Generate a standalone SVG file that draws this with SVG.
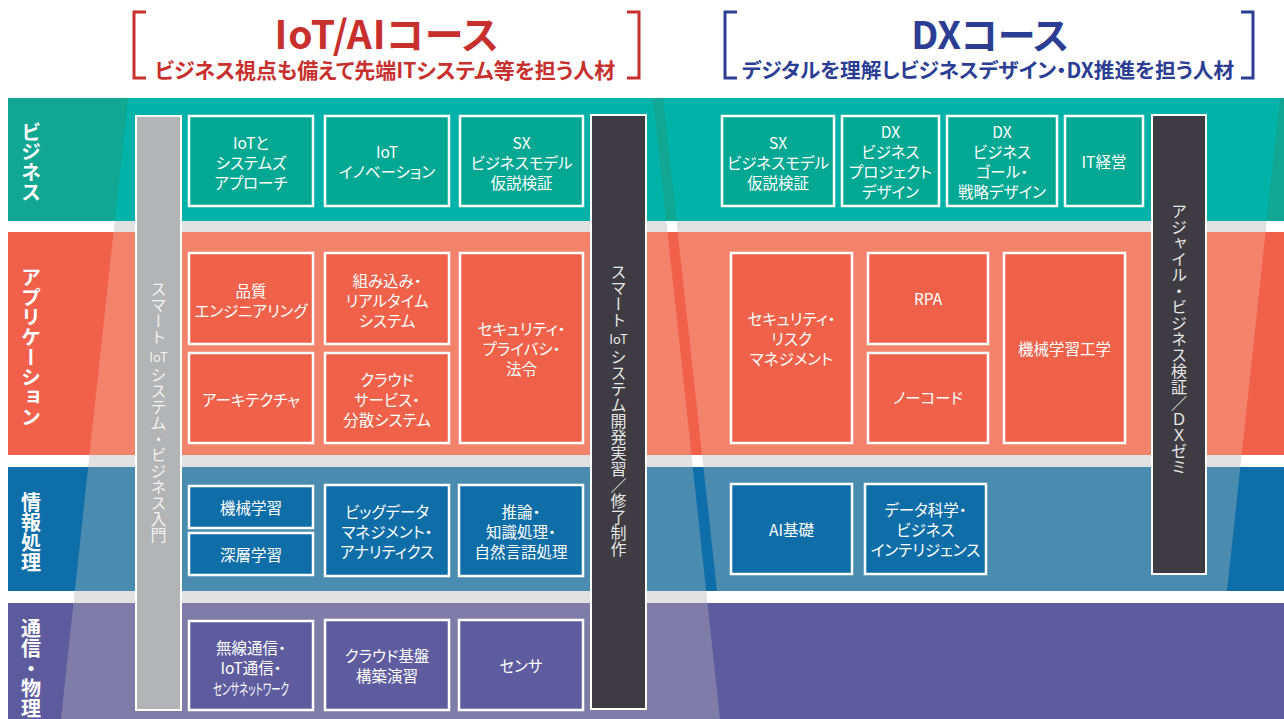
<svg xmlns="http://www.w3.org/2000/svg" width="1284" height="719" viewBox="0 0 1284 719">
<style>
.nt{fill:#fff;font-family:"Noto Sans CJK JP","Noto Sans",sans-serif;font-size:15.5px;font-feature-settings:"palt";text-anchor:middle;dominant-baseline:central}
.lbl{fill:#fff;font-family:"Noto Sans CJK JP",sans-serif;font-size:20px;font-weight:700;writing-mode:vertical-rl}
.vt{font-family:"Noto Sans CJK JP",sans-serif;font-size:16px;writing-mode:vertical-rl}
.ht{font-family:"Noto Sans CJK JP","Noto Sans",sans-serif;font-size:13px;text-anchor:middle}
.b1{fill:#03a893;stroke:#fff;stroke-width:2.5}
.b2{fill:#f0614a;stroke:#fff;stroke-width:2.5}
.b3{fill:#0f6ea8;stroke:#fff;stroke-width:2.5}
.b4{fill:#5e5c9e;stroke:#fff;stroke-width:2.5}
.tr{fill:#c8302e;font-family:"Noto Sans CJK JP",sans-serif;font-weight:700;text-anchor:middle;font-feature-settings:"palt"}
.tb{fill:#2c3e93;font-family:"Noto Sans CJK JP",sans-serif;font-weight:700;text-anchor:middle;font-feature-settings:"palt"}
</style>
<defs>
<clipPath id="spotL"><polygon points="128,98 653,98 720,719 61,719"/></clipPath>
<clipPath id="spotR"><polygon points="663,98 1280,98 1227,591 717,591"/></clipPath>
</defs>
<rect width="1284" height="719" fill="#fff"/>
<g id="header">
<path d="M146,12 H134 V78 H146" fill="none" stroke="#c8302e" stroke-width="3"/>
<path d="M627,12 H639 V78 H627" fill="none" stroke="#c8302e" stroke-width="3"/>
<text class="tr" x="387" y="49" font-size="39" letter-spacing="0.8">IoT/AIコース</text>
<text class="tr" x="385" y="78" font-size="21">ビジネス視点も備えて先端ITシステム等を担う人材</text>
<path d="M737,12 H725 V78 H737" fill="none" stroke="#2c3e93" stroke-width="3"/>
<path d="M1241,12 H1253 V78 H1241" fill="none" stroke="#2c3e93" stroke-width="3"/>
<text class="tb" x="990" y="49" font-size="38">DXコース</text>
<text class="tb" x="988" y="78" font-size="20.7">デジタルを理解しビジネスデザイン・DX推進を担う人材</text>
</g>
<g id="bands">
<polygon points="128,98 653,98 720,719 61,719" fill="#e1e1e1"/>
<polygon points="663,98 1280,98 1227,591 717,591" fill="#e1e1e1"/>
<rect x="8" y="98" width="1276" height="123" fill="#12a793"/>
<rect x="8" y="232" width="1276" height="223" fill="#f0604a"/>
<rect x="8" y="467" width="1276" height="124" fill="#0e6ea9"/>
<rect x="8" y="603" width="1276" height="116" fill="#5d5b9e"/>
<g clip-path="url(#spotL)">
<rect x="8" y="98" width="1276" height="123" fill="#00b2a7"/>
<rect x="8" y="232" width="1276" height="223" fill="#f4836c"/>
<rect x="8" y="467" width="1276" height="124" fill="#4a8bb0"/>
<rect x="8" y="603" width="1276" height="116" fill="#7f7da8"/>
</g>
<g clip-path="url(#spotR)">
<rect x="8" y="98" width="1276" height="123" fill="#00b2a7"/>
<rect x="8" y="232" width="1276" height="223" fill="#f4836c"/>
<rect x="8" y="467" width="1276" height="124" fill="#4a8bb0"/>
</g>
</g>
<g id="layer-labels">
<text class="lbl" x="31" y="122">ビジネス</text>
<text class="lbl" x="31" y="267">アプリケーション</text>
<text class="lbl" x="31" y="492">情報処理</text>
<text class="lbl" x="31" y="618">通信・物理</text>
</g>
<g id="bar-smart-intro">
<rect x="136" y="116" width="45" height="594" fill="#b2b4b5" stroke="#fff" stroke-width="2"/>
<text class="vt" x="158.5" y="281" fill="#f2f2f2">スマート</text>
<text class="ht" x="158.5" y="362" fill="#f2f2f2">IoT</text>
<text class="vt" x="158.5" y="367" fill="#f2f2f2">システム・ビジネス入門</text>
</g>
<g id="bar-smart-dev">
<rect x="591" y="115" width="55" height="594" fill="#3e3c42" stroke="#fff" stroke-width="2"/>
<text class="vt" x="618.5" y="264" fill="#e6e6e6">スマート</text>
<text class="ht" x="618.5" y="344" fill="#e6e6e6">IoT</text>
<text class="vt" x="618.5" y="349" fill="#e6e6e6">システム開発実習／修了制作</text>
</g>
<g id="bar-agile">
<rect x="1152" y="115" width="54" height="459" fill="#3e3c42" stroke="#fff" stroke-width="2"/>
<text class="vt" x="1179" y="203" fill="#e6e6e6" font-size="16.5">アジャイル・ビジネス検証／ＤＸゼミ</text>
</g>
<g id="n-iot-sys"><rect class="b1" x="189" y="116" width="124" height="90"/><text class="nt"><tspan x="251" y="142">IoTと</tspan><tspan x="251" y="162">システムズ</tspan><tspan x="251" y="182">アプローチ</tspan></text></g>
<g id="n-iot-inno"><rect class="b1" x="325" y="116" width="124" height="90"/><text class="nt"><tspan x="387" y="151">IoT</tspan><tspan x="387" y="171">イノベーション</tspan></text></g>
<g id="n-sx1"><rect class="b1" x="460" y="116" width="123" height="90"/><text class="nt"><tspan x="521.5" y="142">SX</tspan><tspan x="521.5" y="162">ビジネスモデル</tspan><tspan x="521.5" y="182">仮説検証</tspan></text></g>
<g id="n-sx2"><rect class="b1" x="722" y="116" width="112" height="90"/><text class="nt"><tspan x="778" y="142">SX</tspan><tspan x="778" y="162">ビジネスモデル</tspan><tspan x="778" y="182">仮説検証</tspan></text></g>
<g id="n-dxproj"><rect class="b1" x="842" y="116" width="97" height="90"/><text class="nt"><tspan x="890.5" y="131">DX</tspan><tspan x="890.5" y="151">ビジネス</tspan><tspan x="890.5" y="171">プロジェクト</tspan><tspan x="890.5" y="191">デザイン</tspan></text></g>
<g id="n-dxgoal"><rect class="b1" x="947" y="116" width="110" height="90"/><text class="nt"><tspan x="1002" y="131">DX</tspan><tspan x="1002" y="151">ビジネス</tspan><tspan x="1002" y="171">ゴール・</tspan><tspan x="1002" y="191">戦略デザイン</tspan></text></g>
<g id="n-itkeiei"><rect class="b1" x="1065" y="116" width="78" height="90"/><text class="nt" x="1104" y="161">IT経営</text></g>
<g id="n-quality"><rect class="b2" x="189" y="253" width="124" height="91"/><text class="nt"><tspan x="251" y="290">品質</tspan><tspan x="251" y="310">エンジニアリング</tspan></text></g>
<g id="n-arch"><rect class="b2" x="189" y="353" width="124" height="90"/><text class="nt" x="251" y="399">アーキテクチャ</text></g>
<g id="n-embed"><rect class="b2" x="325" y="253" width="124" height="91"/><text class="nt"><tspan x="387" y="280">組み込み・</tspan><tspan x="387" y="300">リアルタイム</tspan><tspan x="387" y="320">システム</tspan></text></g>
<g id="n-cloud"><rect class="b2" x="325" y="353" width="124" height="90"/><text class="nt"><tspan x="387" y="379">クラウド</tspan><tspan x="387" y="399">サービス・</tspan><tspan x="387" y="419">分散システム</tspan></text></g>
<g id="n-secpriv"><rect class="b2" x="460" y="253" width="123" height="190"/><text class="nt"><tspan x="521.5" y="328">セキュリティ・</tspan><tspan x="521.5" y="348">プライバシ・</tspan><tspan x="521.5" y="368">法令</tspan></text></g>
<g id="n-secrisk"><rect class="b2" x="731" y="253" width="121" height="190"/><text class="nt"><tspan x="791.5" y="318">セキュリティ・</tspan><tspan x="791.5" y="338">リスク</tspan><tspan x="791.5" y="358">マネジメント</tspan></text></g>
<g id="n-rpa"><rect class="b2" x="868" y="253" width="120" height="91"/><text class="nt" x="928" y="298">RPA</text></g>
<g id="n-nocode"><rect class="b2" x="868" y="353" width="120" height="90"/><text class="nt" x="928" y="397">ノーコード</text></g>
<g id="n-mlengr"><rect class="b2" x="1004" y="253" width="121" height="190"/><text class="nt" x="1064.5" y="348">機械学習工学</text></g>
<g id="n-ml"><rect class="b3" x="189" y="486" width="124" height="42"/><text class="nt" x="251" y="507">機械学習</text></g>
<g id="n-dl"><rect class="b3" x="189" y="533" width="124" height="42"/><text class="nt" x="251" y="554">深層学習</text></g>
<g id="n-bigdata"><rect class="b3" x="325" y="485" width="124" height="91"/><text class="nt"><tspan x="387" y="511">ビッグデータ</tspan><tspan x="387" y="531">マネジメント・</tspan><tspan x="387" y="551">アナリティクス</tspan></text></g>
<g id="n-reasoning"><rect class="b3" x="459" y="485" width="124" height="91"/><text class="nt"><tspan x="521" y="511">推論・</tspan><tspan x="521" y="531">知識処理・</tspan><tspan x="521" y="551">自然言語処理</tspan></text></g>
<g id="n-aibasic"><rect class="b3" x="731" y="484" width="121" height="90"/><text class="nt" x="791.5" y="529">AI基礎</text></g>
<g id="n-datasci"><rect class="b3" x="865" y="484" width="121" height="90"/><text class="nt"><tspan x="925.5" y="509">データ科学・</tspan><tspan x="925.5" y="529">ビジネス</tspan><tspan x="925.5" y="549">インテリジェンス</tspan></text></g>
<g id="n-wireless"><rect class="b4" x="189" y="621" width="124" height="89"/><text class="nt"><tspan x="251" y="647">無線通信・</tspan><tspan x="251" y="667">IoT通信・</tspan></text><text class="nt" x="251" y="688" font-size="13" textLength="76" lengthAdjust="spacingAndGlyphs">センサネットワーク</text></g>
<g id="n-cloudinfra"><rect class="b4" x="325" y="620" width="124" height="90"/><text class="nt"><tspan x="387" y="655">クラウド基盤</tspan><tspan x="387" y="675">構築演習</tspan></text></g>
<g id="n-sensor"><rect class="b4" x="459" y="620" width="124" height="90"/><text class="nt" x="521" y="665">センサ</text></g>
<g id="connectors"></g>
</svg>
